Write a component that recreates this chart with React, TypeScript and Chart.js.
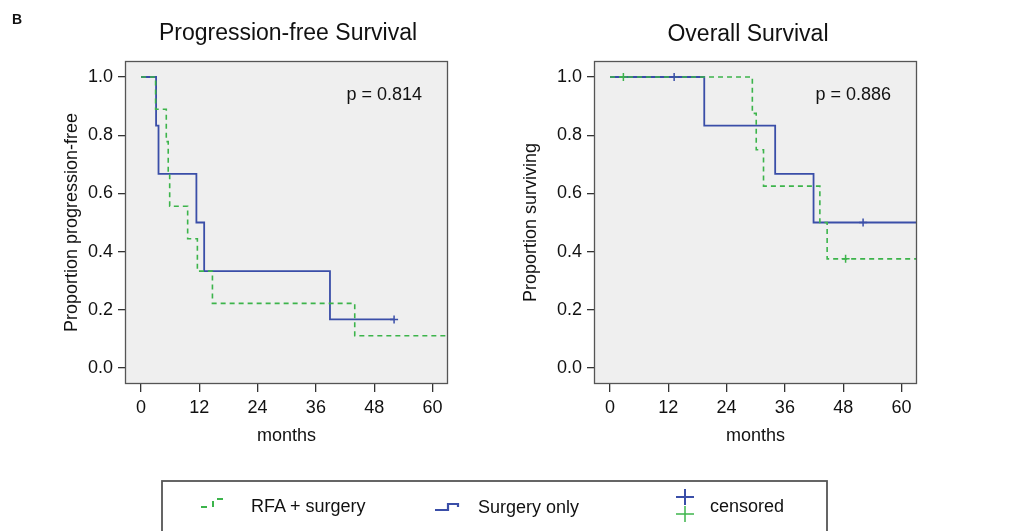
import React, { useEffect, useRef } from 'react';
import { Chart, registerables } from 'chart.js';

Chart.register(...registerables);

const FONT = "'Liberation Sans', Arial, Helvetica, sans-serif";
const GREEN = '#3cb44b';
const BLUE = '#3a4ea8';

// Tick labels
const monthTicks = [0, 12, 24, 36, 48, 60];
const proportionTicks = [0, 0.2, 0.4, 0.6, 0.8, 1.0];

// Progression-free survival
const pfsRfaMonths = [0, 3.0, 5.2, 5.6, 5.9, 9.6, 11.6, 14.7, 44.0, 64];
const pfsRfaProp = [1, 0.889, 0.778, 0.667, 0.556, 0.444, 0.333, 0.222, 0.111, 0.111];
const pfsSurgMonths = [0, 3.1, 3.6, 11.4, 13.0, 38.9, 52.1];
const pfsSurgProp = [1, 0.833, 0.667, 0.5, 0.333, 0.167, 0.167];
const pfsRfaCensMonths: number[] = [];
const pfsRfaCensProp: number[] = [];
const pfsSurgCensMonths = [52.1];
const pfsSurgCensProp = [0.167];

// Overall survival
const osRfaMonths = [0, 29.3, 30.1, 31.6, 43.2, 44.7, 64];
const osRfaProp = [1, 0.875, 0.75, 0.625, 0.5, 0.375, 0.375];
const osSurgMonths = [0, 19.4, 34.0, 41.9, 64];
const osSurgProp = [1, 0.833, 0.667, 0.5, 0.5];
const osRfaCensMonths = [2.75, 48.5];
const osRfaCensProp = [1, 0.375];
const osSurgCensMonths = [13.2, 52.1];
const osSurgCensProp = [1, 0.5];

const PANEL_H = 460;

const toPts = (xs: number[], ys: number[]) => xs.map((x, i) => ({ x, y: ys[i] }));

const kmPlugin = {
  id: 'kmFrame',
  beforeDraw(chart: any, _args: any, opts: any) {
    const { ctx, chartArea: a } = chart;
    ctx.save();
    ctx.fillStyle = '#efefef';
    ctx.fillRect(a.left, a.top, a.right - a.left, a.bottom - a.top);
    ctx.fillStyle = '#111';
    ctx.font = `23px ${FONT}`;
    ctx.textAlign = 'center';
    ctx.textBaseline = 'alphabetic';
    ctx.fillText(opts.title, opts.titleX, opts.titleY);
    ctx.restore();
  },
  afterDatasetsDraw(chart: any, _args: any, opts: any) {
    const { ctx, chartArea: a } = chart;
    ctx.save();
    ctx.strokeStyle = '#555';
    ctx.lineWidth = 1.3;
    ctx.strokeRect(a.left + 0.5, a.top + 0.5, a.right - a.left - 1, a.bottom - a.top - 1);
    ctx.fillStyle = '#111';
    ctx.font = `18px ${FONT}`;
    ctx.textAlign = 'right';
    ctx.textBaseline = 'alphabetic';
    ctx.fillText(opts.pText, a.right - 26, 100);
    ctx.restore();
  },
};

type PanelProps = {
  left: number;
  width: number;
  title: string;
  titleX: number;
  titleY: number;
  yTitle: string;
  yTitleX: number;
  pText: string;
  rfa: { x: number; y: number }[];
  surg: { x: number; y: number }[];
  rfaCens: { x: number; y: number }[];
  surgCens: { x: number; y: number }[];
};

function KMPanel(p: PanelProps) {
  const ref = useRef<HTMLCanvasElement>(null);
  useEffect(() => {
    const areaLeft = 125;
    const areaRight = 448;
    const areaBottom = 384;
    const chart = new Chart(ref.current as HTMLCanvasElement, {
      type: 'line',
      data: {
        datasets: [
          {
            data: p.rfaCens,
            showLine: false,
            pointStyle: 'cross',
            pointRadius: 4,
            pointBorderWidth: 1.5,
            pointBorderColor: GREEN,
            borderColor: GREEN,
          },
          {
            data: p.surgCens,
            showLine: false,
            pointStyle: 'cross',
            pointRadius: 4,
            pointBorderWidth: 1.5,
            pointBorderColor: BLUE,
            borderColor: BLUE,
          },
          {
            data: p.rfa,
            borderColor: GREEN,
            borderWidth: 1.6,
            borderDash: [5, 4],
            stepped: 'before',
            pointRadius: 0,
            fill: false,
          },
          {
            data: p.surg,
            borderColor: BLUE,
            borderWidth: 1.8,
            stepped: 'before',
            pointRadius: 0,
            fill: false,
          },
        ],
      } as any,
      options: {
        responsive: false,
        animation: false,
        events: [],
        layout: { padding: { left: 0, right: p.width - areaRight, top: 61, bottom: 0 } },
        plugins: {
          legend: { display: false },
          tooltip: { enabled: false },
          kmFrame: { title: p.title, titleX: p.titleX, titleY: p.titleY, pText: p.pText },
        } as any,
        scales: {
          x: {
            type: 'linear',
            min: -3.3,
            max: 63.2,
            afterBuildTicks: (s: any) => {
              s.ticks = monthTicks.map((v) => ({ value: v }));
            },
            afterFit: (s: any) => {
              s.height = PANEL_H - areaBottom;
            },
            ticks: {
              autoSkip: false,
              maxRotation: 0,
              padding: 5,
              color: '#111',
              font: { size: 18, family: FONT },
              callback: (v: any) => String(v),
            },
            grid: { display: true, drawOnChartArea: false, drawTicks: true, tickLength: 8, color: '#333', lineWidth: 1.3 },
            border: { display: false },
            title: {
              display: true,
              text: 'months',
              color: '#111',
              font: { size: 18, family: FONT },
              padding: { top: 0, bottom: 13 },
            },
          },
          y: {
            type: 'linear',
            min: -0.055,
            max: 1.055,
            afterBuildTicks: (s: any) => {
              s.ticks = proportionTicks.map((v) => ({ value: v }));
            },
            afterFit: (s: any) => {
              s.width = areaLeft;
            },
            ticks: {
              padding: 5,
              color: '#111',
              font: { size: 18, family: FONT },
              callback: (v: any) => Number(v).toFixed(1),
            },
            grid: { display: true, drawOnChartArea: false, drawTicks: true, tickLength: 7, color: '#333', lineWidth: 1.3 },
            border: { display: false },
            title: {
              display: true,
              text: p.yTitle,
              color: '#111',
              font: { size: 18, family: FONT },
              padding: { top: p.yTitleX - 10.8, bottom: 0 },
            },
          },
        },
      } as any,
      plugins: [kmPlugin],
    });
    return () => chart.destroy();
  }, []);
  return (
    <canvas
      ref={ref}
      width={p.width}
      height={PANEL_H}
      style={{ position: 'absolute', left: p.left, top: 0, width: p.width, height: PANEL_H }}
    />
  );
}

export default function App() {
  return (
    <div
      style={{
        position: 'absolute',
        left: 0,
        top: 0,
        width: 1036,
        height: 531,
        overflow: 'hidden',
        background: '#fff',
      }}
    >
      <KMPanel
        left={0}
        width={469}
        title="Progression-free Survival"
        titleX={288}
        titleY={40}
        yTitle="Proportion progression-free"
        yTitleX={72}
        pText="p = 0.814"
        rfa={toPts(pfsRfaMonths, pfsRfaProp)}
        surg={toPts(pfsSurgMonths, pfsSurgProp)}
        rfaCens={toPts(pfsRfaCensMonths, pfsRfaCensProp)}
        surgCens={toPts(pfsSurgCensMonths, pfsSurgCensProp)}
      />
      <KMPanel
        left={469}
        width={567}
        title="Overall Survival"
        titleX={279}
        titleY={41}
        yTitle="Proportion surviving"
        yTitleX={62}
        pText="p = 0.886"
        rfa={toPts(osRfaMonths, osRfaProp)}
        surg={toPts(osSurgMonths, osSurgProp)}
        rfaCens={toPts(osRfaCensMonths, osRfaCensProp)}
        surgCens={toPts(osSurgCensMonths, osSurgCensProp)}
      />
      <svg
        width={1036}
        height={531}
        style={{ position: 'absolute', left: 0, top: 0, pointerEvents: 'none' }}
        fontFamily={FONT}
      >
        <text x={12} y={23.5} fontSize={14} fontWeight="bold" fill="#111">B</text>
        <rect x={162} y={481} width={665} height={80} fill="none" stroke="#555" strokeWidth={1.8} />
        <polyline
          points="201,507 213,507 213,499 227,499"
          fill="none"
          stroke={GREEN}
          strokeWidth={2}
          strokeDasharray="6,6"
        />
        <text x={251} y={511.5} fontSize={18} fill="#111">RFA + surgery</text>
        <polyline points="435,510 448,510 448,504 458,504 458,507" fill="none" stroke={BLUE} strokeWidth={2.2} />
        <text x={478} y={512.5} fontSize={18} fill="#111">Surgery only</text>
        <line x1={676} y1={497} x2={694} y2={497} stroke={BLUE} strokeWidth={2} />
        <line x1={685} y1={489} x2={685} y2={505} stroke={BLUE} strokeWidth={2} />
        <line x1={676} y1={514} x2={694} y2={514} stroke={GREEN} strokeWidth={1.5} />
        <line x1={685} y1={506} x2={685} y2={522} stroke={GREEN} strokeWidth={1.5} />
        <text x={710} y={511.5} fontSize={18} fill="#111">censored</text>
      </svg>
    </div>
  );
}
